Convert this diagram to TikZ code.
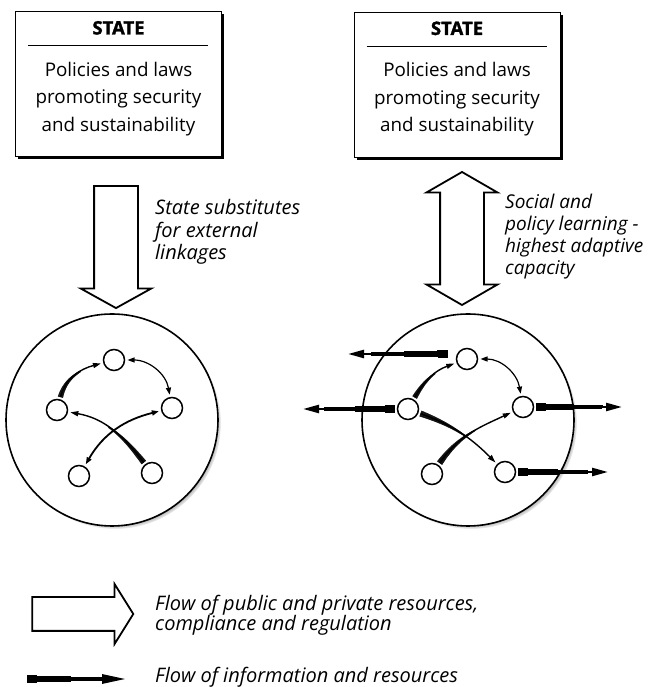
\documentclass[tikz,border=0pt]{standalone}
\usepackage{fontspec}
\setmainfont{Open Sans}
\newfontfamily\blackfont[BoldFeatures={FakeBold=1.5}]{Open Sans}
\usetikzlibrary{arrows.meta,shapes.arrows,shadows,decorations.markings,positioning}

% wedge-shaped start of a flow line, built from thin slices along the path
\tikzset{
  thickstart/.style args={#1 from #2 to #3}{postaction={decorate,decoration={markings,
      mark=between positions 0 and #1 step 0.4pt with {
        \pgfmathsetmacro\tw{#2+(#3-#2)*\pgfkeysvalueof{/pgf/decoration/mark info/distance from start}/(#1*\pgfdecoratedpathlength)}
        \fill (-0.25pt,-\tw pt) rectangle (0.25pt,\tw pt);}}}},
}

\begin{document}
\begin{tikzpicture}
[x=1pt,y=1pt,
  statebox/.style={draw,line width=1pt,fill=white,minimum width=206pt,minimum height=145pt,
    drop shadow={shadow xshift=2.5pt,shadow yshift=-2.5pt,fill=black,opacity=1}},%
  community/.style={circle,draw,line width=1.6pt,fill=white,minimum size=212pt,inner sep=0pt,
    circular drop shadow={shadow xshift=3pt,shadow yshift=-3pt,shadow scale=1,fill=black,opacity=1}},%
  actor/.style={circle,draw,line width=1.5pt,fill=white,minimum size=21pt,inner sep=0pt,outer sep=3pt},%
  hollow/.style={draw,line width=1.8pt,fill=white,inner xsep=0pt},%
  body/.style={font=\fontsize{18.8}{27.5}\selectfont,align=center,inner sep=0pt},%
  note/.style={font=\itshape\fontsize{20}{22.5}\selectfont,align=left,inner sep=0pt},%
  flow/.style={line width=1.4pt,-{Triangle[length=8pt,width=5pt]}},%
  twoway/.style={line width=1.2pt,{Triangle[length=7pt,width=5pt]}-{Triangle[length=7pt,width=5pt]}},%
  outflow/.style={line width=2.4pt,-{Triangle[length=16pt,width=8pt]},thickstart=0.8 from 3.8 to 1.4}]
\useasboundingbox (0,0) rectangle (649,687);

%% state boxes
\node[statebox] (stateL) at (118.5,602.5) {};
\node[statebox] (stateR) at (457,602) {};
\foreach \b in {stateL,stateR}
{
  \node[anchor=base,font=\blackfont\bfseries\fontsize{18.5}{20}\selectfont] at ([yshift=-23pt]\b.north) {STATE};
  \draw[line width=0.8pt] ([xshift=13pt,yshift=-34pt]\b.north west) -- ([xshift=-14pt,yshift=-34pt]\b.north east);
  \node[body,anchor=base] at ([yshift=-120pt]\b.north) {Policies and laws\\promoting security\\and sustainability};
}

%% hollow arrows between state and community
\node[single arrow,hollow,inner ysep=21pt,minimum height=122pt,single arrow head extend=13.5pt,
  single arrow tip angle=122,rotate=270] (feedL) at (116,446) {};
\node[double arrow,hollow,inner ysep=21pt,minimum height=133pt,double arrow head extend=13.5pt,
  double arrow tip angle=120,rotate=90] (feedR) at (462,448.5) {};
\node[note,anchor=base west] (noteL) at (155,427) {State substitutes\\for external\\linkages};
\node[note,anchor=base west,font=\itshape\fontsize{19}{22.2}\selectfont] (noteR) at (505,412)
  {Social and\\policy learning -\\highest adaptive\\capacity};

%% communities
\node[community] (commL) at (112,267) {};
\node[community] (commR) at (468,267) {};
\foreach \nodename/\x/\y in {Lt/114/327, Ll/57/277, Lr/172/279, Lb1/79/211, Lb2/152/214,
  Rt/467/328, Rl/408/278, Rr/523/280, Rb1/432/213, Rb2/505/215}
{
  \node[actor] (\nodename) at (\x,\y) {};
}

%% links inside the left community
\draw[flow,thickstart=0.6 from 2.6 to 0.7] (Ll) to[out=75,in=195] (Lt);
\draw[twoway] (Lt) to[out=0,in=100] (Lr);
\draw[flow,thickstart=0.55 from 2.8 to 0.7] (Lb2) to[out=128,in=-10] (Ll);
\draw[twoway,line width=1.8pt] (Lr) to[out=194,in=60] (Lb1);

%% links inside the right community
\draw[flow,thickstart=0.6 from 2.6 to 0.7] (Rl) to[out=60,in=200] (Rt);
\draw[twoway] (Rt) to[out=0,in=100] (Rr);
\draw[flow,thickstart=0.55 from 3 to 0.7] (Rl) to[out=-20,in=135] (Rb2);
\draw[flow,thickstart=0.55 from 3 to 0.7] (Rb1) to[out=55,in=205] (Rr);

%% links leaving the right community
\coordinate (outT) at (348,333);
\coordinate (outL) at (303,278);
\coordinate (outR) at (622,280);
\coordinate (outB) at (608,215);
\draw[outflow] ([xshift=-6pt,yshift=5pt]Rt.west) -- (outT);
\draw[outflow] (Rl.west) -- (outL);
\draw[outflow] (Rr.east) -- (outR);
\draw[outflow] (Rb2.east) -- (outB);

%% key
\node[single arrow,hollow,inner ysep=16pt,minimum height=101pt,single arrow head extend=13pt,
  single arrow tip angle=116] (keyHollow) at (77.5,73) {};
\node[note,anchor=base west,font=\itshape\fontsize{20}{20}\selectfont] (keyTextA) at (155,56)
  {Flow of public and private resources,\\compliance and regulation};
\coordinate (keyS) at (27,8);
\coordinate (keyE) at (126,8);
\draw[outflow,line width=3pt,-{Triangle[length=24pt,width=9pt]},thickstart=0.7 from 3.8 to 1.6] (keyS) -- (keyE);
\node[note,anchor=base west] (keyTextB) at (155,5) {Flow of information and resources};
\end{tikzpicture}
\end{document}
